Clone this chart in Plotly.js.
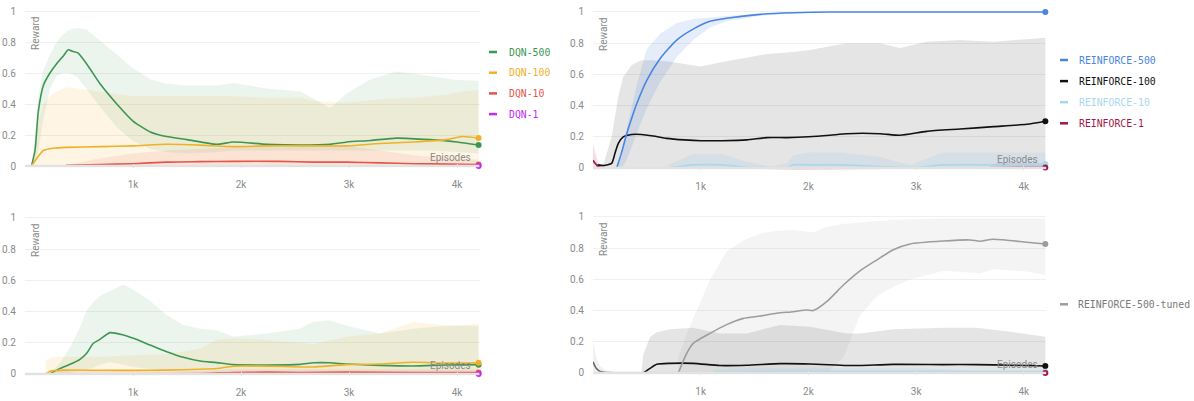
<!DOCTYPE html>
<html>
<head>
<meta charset="utf-8">
<script src="https://cdn.plot.ly/plotly-3.0.1.min.js"></script>
<style>
html,body{margin:0;padding:0;background:#ffffff;}
#chart{width:1194px;height:401px;}
</style>
</head>
<body>
<div id="chart"></div>
<script>
// ================= DATA =================
const yTicks = [0, 0.2, 0.4, 0.6, 0.8, 1];
const yTickText = ['0', '0.2', '0.4', '0.6', '0.8', '1'];
const xTicks = [1000, 2000, 3000, 4000];
const xTickText = ['1k', '2k', '3k', '4k'];
const axisTitleY = 'Reward';
const axisTitleX = 'Episodes';

// ---- Top-left panel (DQN) ----
const tlDqn500X     = [60, 93, 123, 170, 231, 293, 355, 400, 440, 490, 570, 695, 850, 1000, 1160, 1310, 1500, 1775, 1930, 2240, 2550, 2825, 2980, 3200, 3440, 3750, 4000, 4200];
const tlDqn500Mean  = [0, 0.1, 0.35, 0.52, 0.6, 0.66, 0.71, 0.75, 0.74, 0.73, 0.66, 0.53, 0.40, 0.29, 0.22, 0.19, 0.17, 0.14, 0.155, 0.14, 0.135, 0.14, 0.155, 0.165, 0.18, 0.17, 0.155, 0.135];
const tlDqn500Upper = [0, 0.2, 0.45, 0.62, 0.72, 0.8, 0.85, 0.875, 0.885, 0.89, 0.88, 0.81, 0.72, 0.63, 0.56, 0.53, 0.52, 0.52, 0.535, 0.50, 0.48, 0.375, 0.47, 0.56, 0.61, 0.58, 0.555, 0.55];
const tlDqn500Lower = [0, 0.02, 0.1, 0.3, 0.5, 0.58, 0.6, 0.6, 0.59, 0.57, 0.5, 0.38, 0.25, 0.16, 0.11, 0.09, 0.08, 0.09, 0.1, 0.1, 0.1, 0.1, 0.1, 0.1, 0.1, 0.1, 0.09, 0.08];

const tlDqn100X     = [60, 110, 170, 260, 385, 700, 1000, 1310, 1620, 1930, 2240, 2550, 2670, 2980, 3290, 3600, 3900, 4050, 4200];
const tlDqn100Mean  = [0, 0.05, 0.10, 0.115, 0.12, 0.125, 0.13, 0.14, 0.135, 0.125, 0.13, 0.13, 0.13, 0.13, 0.145, 0.155, 0.17, 0.19, 0.18];
const tlDqn100Upper = [0, 0.25, 0.4, 0.47, 0.51, 0.48, 0.45, 0.45, 0.45, 0.45, 0.44, 0.44, 0.42, 0.41, 0.43, 0.44, 0.46, 0.48, 0.49];

const tlDqn10X     = [380, 700, 1000, 1310, 1600, 1930, 2360, 2670, 2980, 3290, 3600, 3900, 4200];
const tlDqn10Mean  = [0.005, 0.01, 0.015, 0.025, 0.028, 0.03, 0.03, 0.025, 0.025, 0.02, 0.015, 0.012, 0.01];
const tlDqn10Upper = [0.005, 0.05, 0.08, 0.10, 0.11, 0.12, 0.135, 0.135, 0.13, 0.10, 0.07, 0.05, 0.04];

const tlDqn1X    = [0, 4200];
const tlDqn1Mean = [0, 0];

// ---- Top-right panel (REINFORCE) ----
const trR500X     = [220, 266, 313, 374, 405, 498, 622, 777, 930, 1086, 1241, 1550, 1857, 2200, 4200];
const trR500Mean  = [0, 0.1, 0.22, 0.35, 0.41, 0.56, 0.70, 0.82, 0.89, 0.94, 0.96, 0.985, 0.995, 1, 1];
const trR500Upper = [0, 0.07, 0.25, 0.44, 0.53, 0.76, 0.86, 0.93, 0.955, 0.965, 0.975, 0.99, 1, 1, 1];
const trR500Lower = [0, 0, 0.05, 0.16, 0.22, 0.38, 0.55, 0.71, 0.82, 0.9, 0.94, 0.975, 0.99, 1, 1];

const trR100X     = [40, 100, 173, 204, 235, 281, 359, 450, 560, 684, 850, 1000, 1200, 1427, 1612, 1800, 2000, 2200, 2355, 2665, 2850, 3098, 3408, 3718, 4027, 4200];
const trR100Mean  = [0.02, 0.015, 0.03, 0.094, 0.158, 0.2, 0.215, 0.215, 0.205, 0.19, 0.18, 0.175, 0.175, 0.18, 0.195, 0.195, 0.2, 0.21, 0.22, 0.22, 0.21, 0.235, 0.25, 0.265, 0.28, 0.30];
const trR100Upper = [0.02, 0.03, 0.2, 0.33, 0.46, 0.585, 0.66, 0.69, 0.69, 0.685, 0.665, 0.65, 0.68, 0.71, 0.73, 0.74, 0.755, 0.78, 0.80, 0.80, 0.77, 0.81, 0.82, 0.81, 0.825, 0.835];

const trR10X     = [700, 930, 1200, 1427, 1650, 1800, 1857, 2000, 2300, 2665, 2942, 3100, 3250, 3700, 4200];
const trR10Mean  = [0, 0.02, 0.02, 0.005, 0.002, 0.0, 0.02, 0.02, 0.02, 0.01, 0.003, 0.01, 0.02, 0.02, 0.025];
const trR10Upper = [0.02, 0.09, 0.09, 0.04, 0.01, 0.03, 0.08, 0.1, 0.1, 0.07, 0.02, 0.06, 0.1, 0.1, 0.1];

const trR1X     = [0, 20, 45, 70, 120, 3650, 3750, 4200];
const trR1Mean  = [0.05, 0.03, 0.01, 0.003, 0, 0, 0.002, 0.003];
const trR1Upper = [0.15, 0.1, 0.04, 0.015, 0, 0, 0.03, 0.03];

// ---- Bottom-left panel (DQN) ----
const blDqn500X     = [230, 324, 417, 509, 571, 633, 694, 787, 910, 1003, 1157, 1312, 1466, 1620, 1775, 1929, 2238, 2546, 2670, 2824, 2978, 3287, 3596, 3904, 4200];
const blDqn500Mean  = [0, 0.036, 0.062, 0.094, 0.133, 0.197, 0.222, 0.265, 0.25, 0.229, 0.186, 0.143, 0.107, 0.083, 0.073, 0.06, 0.058, 0.062, 0.072, 0.072, 0.064, 0.055, 0.051, 0.058, 0.06];
const blDqn500Upper = [0, 0.07, 0.17, 0.30, 0.41, 0.46, 0.50, 0.53, 0.573, 0.54, 0.47, 0.378, 0.314, 0.29, 0.28, 0.24, 0.26, 0.29, 0.335, 0.345, 0.31, 0.26, 0.29, 0.31, 0.31];
const blDqn500Lower = [0, 0, 0.01, 0.02, 0.03, 0.04, 0.06, 0.075, 0.06, 0.045, 0.03, 0.02, 0.015, 0.01, 0.01, 0.01, 0.01, 0.01, 0.01, 0.01, 0.01, 0.01, 0.01, 0.01, 0.01];

const blDqn100X     = [190, 247, 386, 700, 1003, 1312, 1620, 1775, 1929, 2238, 2546, 2670, 2978, 3287, 3596, 3904, 4200];
const blDqn100Mean  = [0, 0.02, 0.025, 0.024, 0.023, 0.025, 0.03, 0.035, 0.05, 0.05, 0.045, 0.045, 0.06, 0.064, 0.075, 0.07, 0.072];
const blDqn100Upper = [0.08, 0.11, 0.11, 0.11, 0.12, 0.127, 0.164, 0.218, 0.229, 0.218, 0.20, 0.19, 0.24, 0.26, 0.335, 0.31, 0.32];

const blDqn10X     = [300, 1620, 1929, 2238, 2546, 2978, 3596, 4200];
const blDqn10Mean  = [0, 0.003, 0.01, 0.012, 0.01, 0.012, 0.01, 0.01];
const blDqn10Upper = [0.02, 0.02, 0.03, 0.03, 0.03, 0.03, 0.03, 0.03];

const blDqn1X    = [0, 4200];
const blDqn1Mean = [0, 0];

// ---- Bottom-right panel (REINFORCE tuned) ----
const brTunedX     = [792, 870, 930, 1086, 1241, 1396, 1550, 1705, 1860, 1984, 2046, 2170, 2325, 2479, 2634, 2789, 2944, 3253, 3500, 3595, 3718, 4027, 4200];
const brTunedMean  = [0, 0.126, 0.19, 0.254, 0.31, 0.35, 0.365, 0.383, 0.393, 0.404, 0.40, 0.457, 0.564, 0.655, 0.724, 0.79, 0.827, 0.846, 0.853, 0.845, 0.857, 0.838, 0.827];
const brTunedUpper = [0.1, 0.25, 0.35, 0.596, 0.78, 0.85, 0.895, 0.91, 0.917, 0.905, 0.90, 0.938, 0.955, 0.963, 0.975, 0.98, 0.985, 0.99, 0.99, 0.99, 0.99, 0.99, 0.99];
const brTunedLower = [0, 0, 0, 0, 0, 0, 0, 0, 0, 0, 0, 0, 0.1, 0.37, 0.49, 0.553, 0.60, 0.656, 0.645, 0.64, 0.665, 0.65, 0.628];

const brR100X     = [450, 467, 530, 592, 716, 930, 1179, 1427, 1736, 2015, 2355, 2479, 2789, 3253, 3563, 3875, 4200];
const brR100Mean  = [0, 0, 0.03, 0.056, 0.062, 0.062, 0.048, 0.05, 0.06, 0.058, 0.048, 0.048, 0.055, 0.054, 0.054, 0.05, 0.045];
const brR100Upper = [0, 0.12, 0.23, 0.262, 0.28, 0.29, 0.254, 0.254, 0.308, 0.297, 0.254, 0.254, 0.28, 0.29, 0.29, 0.265, 0.233];

const brR500X     = [0, 30, 60, 110, 200, 4200];
const brR500Mean  = [0.072, 0.03, 0.012, 0.005, 0.002, 0];
const brR500Upper = [0.2, 0.1, 0.05, 0.02, 0.01, 0];

const brR10X     = [1117, 1500, 2000, 2500, 3000, 3500, 4200];
const brR10Mean  = [0.005, 0.008, 0.01, 0.01, 0.01, 0.008, 0.008];
const brR10Upper = [0.02, 0.03, 0.03, 0.03, 0.03, 0.02, 0.02];

const brR1X    = [0, 4200];
const brR1Mean = [0, 0];

// legend labels
const legendTopLeft  = ['DQN-500', 'DQN-100', 'DQN-10', 'DQN-1'];
const legendTopRight = ['REINFORCE-500', 'REINFORCE-100', 'REINFORCE-10', 'REINFORCE-1'];
const legendBotRight = ['REINFORCE-500-tuned'];

// ================= STYLE =================
const COL = {
  'DQN-500': '#3e9651', 'DQN-100': '#f0b127', 'DQN-10': '#e4554d', 'DQN-1': '#c22cf2',
  'REINFORCE-500': '#4a85e2', 'REINFORCE-100': '#111111', 'REINFORCE-10': '#a9d7ef', 'REINFORCE-1': '#a3164a',
  'REINFORCE-500-tuned': '#9d9d9d', 'REINFORCE-500-grey': '#666666'
};
const BAND = {
  'DQN-500': 'rgba(60,160,90,0.10)', 'DQN-100': 'rgba(245,175,40,0.12)', 'DQN-10': 'rgba(230,80,70,0.10)',
  'REINFORCE-500': 'rgba(70,130,230,0.14)', 'REINFORCE-100': 'rgba(0,0,0,0.10)', 'REINFORCE-10': 'rgba(150,200,230,0.20)',
  'REINFORCE-1': 'rgba(170,20,60,0.14)', 'REINFORCE-500-tuned': 'rgba(120,120,120,0.08)', 'REINFORCE-500-grey': 'rgba(120,120,120,0.10)'
};

const series = [
  {p: 0, key: 'DQN-500', x: tlDqn500X, mean: tlDqn500Mean, upper: tlDqn500Upper, lower: tlDqn500Lower},
  {p: 0, key: 'DQN-100', x: tlDqn100X, mean: tlDqn100Mean, upper: tlDqn100Upper},
  {p: 0, key: 'DQN-10',  x: tlDqn10X,  mean: tlDqn10Mean,  upper: tlDqn10Upper},
  {p: 0, key: 'DQN-1',   x: tlDqn1X,   mean: tlDqn1Mean},
  {p: 1, key: 'REINFORCE-100', x: trR100X, mean: trR100Mean, upper: trR100Upper},
  {p: 1, key: 'REINFORCE-500', x: trR500X, mean: trR500Mean, upper: trR500Upper, lower: trR500Lower},
  {p: 1, key: 'REINFORCE-10',  x: trR10X,  mean: trR10Mean,  upper: trR10Upper},
  {p: 1, key: 'REINFORCE-1',   x: trR1X,   mean: trR1Mean,   upper: trR1Upper},
  {p: 2, key: 'DQN-500', x: blDqn500X, mean: blDqn500Mean, upper: blDqn500Upper, lower: blDqn500Lower},
  {p: 2, key: 'DQN-100', x: blDqn100X, mean: blDqn100Mean, upper: blDqn100Upper},
  {p: 2, key: 'DQN-10',  x: blDqn10X,  mean: blDqn10Mean,  upper: blDqn10Upper},
  {p: 2, key: 'DQN-1',   x: blDqn1X,   mean: blDqn1Mean},
  {p: 3, key: 'REINFORCE-500-grey', x: brR500X, mean: brR500Mean, upper: brR500Upper, noMarker: true},
  {p: 3, key: 'REINFORCE-100', x: brR100X, mean: brR100Mean, upper: brR100Upper},
  {p: 3, key: 'REINFORCE-500-tuned', x: brTunedX, mean: brTunedMean, upper: brTunedUpper, lower: brTunedLower},
  {p: 3, key: 'REINFORCE-10', x: brR10X, mean: brR10Mean, upper: brR10Upper},
  {p: 3, key: 'REINFORCE-1',  x: brR1X,  mean: brR1Mean}
];

// ================= LAYOUT GEOMETRY =================
const W = 1194, H = 401;
const X_MAX = 4210, Y_MIN = -0.012, Y_MAX = 1.012;
const panels = [
  {ax: '',  left: 25,  kpx: 108,   y0: 166, y1: 11},
  {ax: '2', left: 593, kpx: 107.7, y0: 168, y1: 12},
  {ax: '3', left: 25,  kpx: 108,   y0: 374, y1: 218},
  {ax: '4', left: 593, kpx: 107.7, y0: 373, y1: 217}
];
panels.forEach(p => {
  p.right = p.left + p.kpx * X_MAX / 1000;
  const unit = p.y0 - p.y1;
  p.bottom = p.y0 - Y_MIN * unit;
  p.top = p.y1 - (Y_MAX - 1) * unit;
});
const px = v => v / W;
const py = v => 1 - v / H;

const tickFont = {family: 'Roboto, "Noto Sans", sans-serif', size: 10, color: '#8a8a8a'};
const legendFont = 'DejaVu Sans Mono, Liberation Mono, monospace';

const layout = {
  width: W, height: H,
  margin: {l: 0, r: 0, t: 0, b: 0, pad: 0},
  paper_bgcolor: '#ffffff', plot_bgcolor: '#ffffff',
  showlegend: false,
  annotations: [], shapes: []
};

panels.forEach(p => {
  layout['xaxis' + p.ax] = {
    domain: [px(p.left), px(p.right)], range: [0, X_MAX], anchor: 'y' + p.ax,
    tickvals: xTicks, ticktext: xTickText, tickfont: tickFont,
    showgrid: false, zeroline: false, showline: false,
    ticks: 'inside', ticklen: 4, tickcolor: '#e3e3e3', tickwidth: 1,
    ticklabelstandoff: 9, fixedrange: true
  };
  layout['yaxis' + p.ax] = {
    domain: [py(p.bottom), py(p.top)], range: [Y_MIN, Y_MAX], anchor: 'x' + p.ax,
    tickvals: yTicks, ticktext: yTickText, tickfont: tickFont,
    showgrid: true, gridcolor: '#f0f0f0', gridwidth: 1,
    zeroline: false, showline: false, ticks: '',
    ticklabelstandoff: 8, fixedrange: true
  };
  // axis baseline at y = 0, drawn above traces
  layout.shapes.push({
    type: 'line', xref: 'x' + p.ax, yref: 'y' + p.ax, x0: 0, x1: X_MAX, y0: 0, y1: 0,
    line: {color: '#e2e2e2', width: 2.5}, layer: 'above'
  });
  // axis labels inside plot
  layout.annotations.push({
    xref: 'paper', yref: 'paper', x: px(p.left + 10.5), y: py(p.y1 + 22.5),
    text: axisTitleY, textangle: -90, showarrow: false, xanchor: 'center', yanchor: 'middle',
    font: {family: 'Roboto, sans-serif', size: 10, color: '#8a8a8a'}
  });
  layout.annotations.push({
    xref: 'paper', yref: 'paper', x: px(p.right - 6.5), y: py(p.y0 - 8.5),
    text: axisTitleX, showarrow: false, xanchor: 'right', yanchor: 'middle',
    font: {family: 'Roboto, sans-serif', size: 10, color: '#8a8a8a'}
  });
});

// custom legends (short swatch + coloured monospace text)
function addLegend(names, swatchX, textX, yStart, dy) {
  names.forEach((n, i) => {
    const y = yStart + i * dy;
    const c = COL[n];
    layout.shapes.push({
      type: 'line', xref: 'paper', yref: 'paper', x0: px(swatchX), x1: px(swatchX + 8), y0: py(y), y1: py(y),
      line: {color: c, width: 2.5}, layer: 'above'
    });
    layout.annotations.push({
      xref: 'paper', yref: 'paper', x: px(textX), y: py(y), text: n, showarrow: false,
      xanchor: 'left', yanchor: 'middle', font: {family: legendFont, size: 9.8, color: n === 'REINFORCE-500-tuned' ? '#7a7a7a' : c}
    });
  });
}
addLegend(legendTopLeft, 489, 507, 52, 20.7);
addLegend(legendTopRight, 1060, 1077, 60, 21.1);
addLegend(legendBotRight, 1060, 1076, 304.3, 21);

// ================= TRACES =================
const bands = [], lines = [], markers = [];
series.forEach(s => {
  const ax = panels[s.p].ax;
  const xa = 'x' + ax, ya = 'y' + ax;
  if (s.upper) {
    if (s.lower) {
      bands.push({
        x: s.x.concat(s.x.slice().reverse()), y: s.upper.concat(s.lower.slice().reverse()),
        xaxis: xa, yaxis: ya, mode: 'lines', fill: 'toself', fillcolor: BAND[s.key],
        line: {width: 0, color: 'rgba(0,0,0,0)'}, hoverinfo: 'skip'
      });
    } else {
      bands.push({
        x: s.x, y: s.upper, xaxis: xa, yaxis: ya, mode: 'lines', fill: 'tozeroy', fillcolor: BAND[s.key],
        line: {width: 0, color: 'rgba(0,0,0,0)'}, hoverinfo: 'skip'
      });
    }
  }
  lines.push({
    x: s.x, y: s.mean, xaxis: xa, yaxis: ya, mode: 'lines', name: s.key,
    line: {color: COL[s.key], width: 1.6, shape: 'spline', smoothing: 0.6}
  });
  if (!s.noMarker) {
    const n = s.x.length - 1;
    markers.push({
      x: [s.x[n]], y: [s.mean[n]], xaxis: xa, yaxis: ya, mode: 'markers', name: s.key,
      marker: {color: COL[s.key], size: 6}, cliponaxis: false
    });
  }
});

Plotly.newPlot('chart', bands.concat(lines, markers), layout, {displayModeBar: false, staticPlot: true});
</script>
</body>
</html>
